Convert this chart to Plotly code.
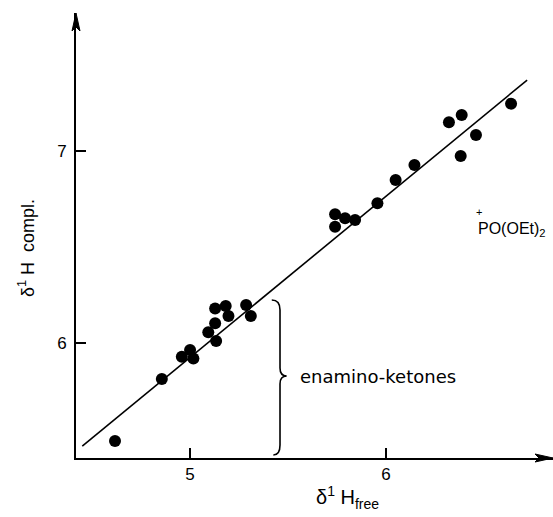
import plotly.graph_objects as go

# data
x_free = [4.617, 4.856, 4.958, 5.000, 5.017, 5.093, 5.133, 5.128, 5.128, 5.182, 5.196, 5.286, 5.310,
          5.740, 5.740, 5.791, 5.842, 5.956, 6.049, 6.145, 6.321, 6.386, 6.381, 6.459, 6.638]
y_compl = [5.487, 5.811, 5.927, 5.962, 5.918, 6.054, 6.009, 6.101, 6.179, 6.191, 6.139, 6.197, 6.139,
           6.670, 6.605, 6.649, 6.640, 6.727, 6.849, 6.927, 7.150, 7.188, 6.974, 7.083, 7.247]
fit_x = [4.45, 6.72]
fit_y = [5.46, 7.37]
x_ticks = [5, 6]
y_ticks = [6, 7]
x_range = [4.418, 6.852]
y_range = [5.3985, 7.72]

# brace marking the enamino-ketones group
brace_x = 5.459
brace_top = 6.223
brace_bottom = 5.414
brace_mid = 5.826
brace_curl = 0.042
brace_tip = 0.034

fig = go.Figure()
fig.add_trace(go.Scatter(x=fit_x, y=fit_y, mode="lines",
                         line=dict(color="black", width=1.6), showlegend=False))
fig.add_trace(go.Scatter(x=x_free, y=y_compl, mode="markers",
                         marker=dict(color="black", size=12), showlegend=False))

bx, c = brace_x, brace_curl
path = (f"M {bx - c},{brace_top} Q {bx},{brace_top} {bx},{brace_top - 0.052} "
        f"L {bx},{brace_mid + 0.042} Q {bx},{brace_mid} {bx + brace_tip},{brace_mid} "
        f"Q {bx},{brace_mid} {bx},{brace_mid - 0.041} "
        f"L {bx},{brace_bottom + 0.052} Q {bx},{brace_bottom} {bx - c + 0.008},{brace_bottom}")
fig.add_shape(type="path", path=path, xref="x", yref="y",
              line=dict(color="black", width=1.6))

# arrowheads on the axes
fig.add_shape(type="path", xref="paper", yref="paper", xsizemode="pixel", ysizemode="pixel",
              xanchor=0, yanchor=1, path="M 0,0 L -4,-18 L 0,-14 L 4,-18 Z",
              fillcolor="black", line=dict(color="black", width=1))
fig.add_shape(type="path", xref="paper", yref="paper", xsizemode="pixel", ysizemode="pixel",
              xanchor=1, yanchor=0, path="M 0,0 L -18,4 L -14,0 L -18,-4 Z",
              fillcolor="black", line=dict(color="black", width=1))

font = "Liberation Sans, Arial, sans-serif"
fig.add_annotation(x=5.551, y=5.823, xref="x", yref="y", text="enamino-ketones",
                   showarrow=False, xanchor="left", yanchor="middle",
                   font=dict(family="DejaVu Sans", size=18, color="black"))
fig.add_annotation(x=6.459, y=6.590, xref="x", yref="y", text="PO(OEt)<sub>2</sub>",
                   showarrow=False, xanchor="left", yanchor="middle",
                   font=dict(family=font, size=16, color="black"))
fig.add_annotation(x=6.472, y=6.680, xref="x", yref="y", text="+",
                   showarrow=False, xanchor="center", yanchor="middle",
                   font=dict(family=font, size=11, color="black"))
fig.add_annotation(x=-0.1027, y=0.472, xref="paper", yref="paper",
                   text="δ<sup>1</sup> H  compl.", textangle=-90,
                   showarrow=False, xanchor="center", yanchor="middle",
                   font=dict(family=font, size=18, color="black"))
fig.add_annotation(x=0.570, y=-0.052, xref="paper", yref="paper",
                   text="δ<sup>1</sup> H<sub>free</sub>",
                   showarrow=False, xanchor="center", yanchor="top",
                   font=dict(family=font, size=20, color="black"))

axis_common = dict(showline=True, linecolor="black", linewidth=2, ticks="inside",
                   ticklen=10, tickwidth=1.6, tickcolor="black", showgrid=False,
                   zeroline=False, tickfont=dict(family=font, size=17, color="black"))
fig.update_xaxes(range=x_range, tickvals=x_ticks, **axis_common)
fig.update_yaxes(range=y_range, tickvals=y_ticks, ticklabelstandoff=4, **axis_common)

fig.update_layout(width=553, height=517, margin=dict(l=76, r=0, t=13, b=59),
                  plot_bgcolor="white", paper_bgcolor="white")
fig.write_html("out.html")
